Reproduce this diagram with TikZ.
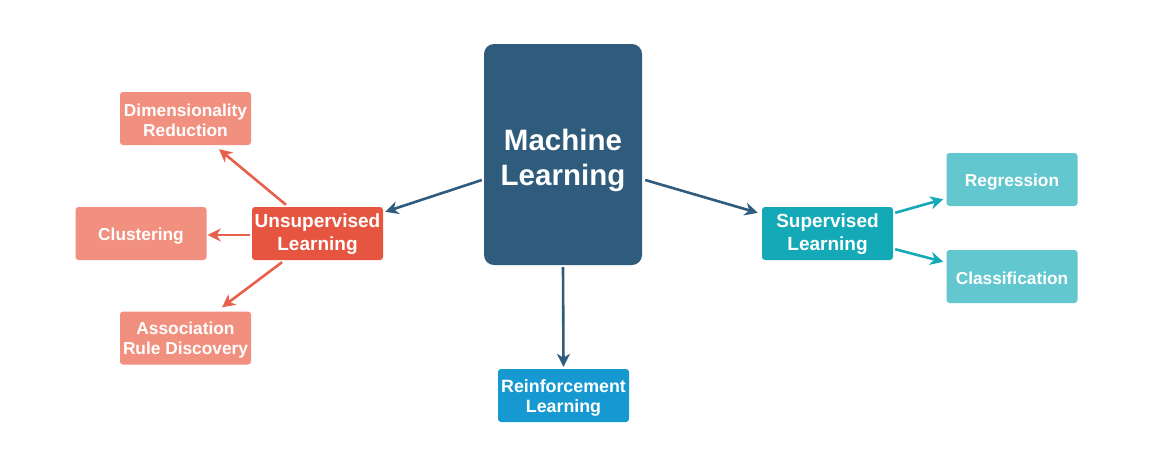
\documentclass[tikz,border=0pt]{standalone}
\usepackage{fontspec}
\setmainfont{Liberation Sans}
\usepackage{tikz}
\usetikzlibrary{arrows.meta}

\definecolor{mlblue}{HTML}{2F5B7C}
\definecolor{unsred}{HTML}{E5553F}
\definecolor{lightred}{HTML}{F1907F}
\definecolor{arrred}{HTML}{E8604C}
\definecolor{supteal}{HTML}{14A9B6}
\definecolor{lightteal}{HTML}{62C7CF}
\definecolor{reinblue}{HTML}{1699D1}

\newcommand{\topstrut}[1]{\rule{0pt}{#1}}

\begin{document}
\begin{tikzpicture}[x=1pt,y=-1pt,
  box/.style={rounded corners=3, inner sep=0, minimum width=131, minimum height=53,
    text=white, align=center, font=\bfseries\fontsize{17.3}{20}\selectfont},
  midbox/.style={box, font=\bfseries\fontsize{19}{23}\selectfont},
  link/.style={line width=2.6, -{Stealth[length=13,width=13,inset=4]}}]
\useasboundingbox (0,0) rectangle (1159,448);

% main box
\node[rounded corners=10, inner sep=0, minimum width=158, minimum height=221, fill=mlblue,
  text=white, align=center, font=\bfseries\fontsize{29.5}{35}\selectfont] (ml) at (563,154.5) {\topstrut{33pt}Machine\\Learning};

% three kinds
\node[midbox, fill=unsred] (un) at (317.5,233.5) {\topstrut{16pt}Unsupervised\\Learning};
\node[midbox, fill=supteal] (su) at (827.5,233.5) {\topstrut{16pt}Supervised\\Learning};
\node[box, fill=reinblue, font=\bfseries\fontsize{17.8}{20}\selectfont] (re) at (563.5,395.5) {\topstrut{17pt}Reinforcement\\Learning};

% unsupervised tasks
\node[box, fill=lightred] (dr) at (185.5,118.5) {\topstrut{17pt}Dimensionality\\Reduction};
\node[box, fill=lightred] (cl) at (141,233.5) {\topstrut{17pt}Clustering};
\node[box, fill=lightred] (ar) at (185.5,338) {\topstrut{17pt}Association\\Rule Discovery};

% supervised tasks
\node[box, fill=lightteal] (rg) at (1012,179.5) {\topstrut{17pt}Regression};
\node[box, fill=lightteal] (cf) at (1012,276.5) {\topstrut{17pt}Classification};

% arrows
\draw[link, mlblue] ([xshift=-2,yshift=-25.5]ml.west) -- ([xshift=2,yshift=-5]un.north east);
\draw[link, mlblue] ([xshift=3,yshift=-25.5]ml.east) -- ([xshift=-4,yshift=-6]su.north west);
\draw[link, mlblue] ([yshift=-2]ml.south) -- ([yshift=2]re.north);

\draw[link, arrred] ([xshift=-31.5,yshift=2]un.north) -- ([xshift=33.5,yshift=-4]dr.south);
\draw[link, arrred] ([xshift=-2,yshift=-1.5]un.west) -- ([xshift=1,yshift=-1.5]cl.east);
\draw[link, arrred] ([xshift=-35.5,yshift=-2]un.south) -- ([xshift=36.5,yshift=4]ar.north);

\draw[link, supteal] ([xshift=2,yshift=-6]su.north east) -- ([xshift=-3,yshift=7]rg.south west);
\draw[link, supteal] ([xshift=2,yshift=11]su.south east) -- ([xshift=-3,yshift=-12]cf.north west);
\end{tikzpicture}
\end{document}
